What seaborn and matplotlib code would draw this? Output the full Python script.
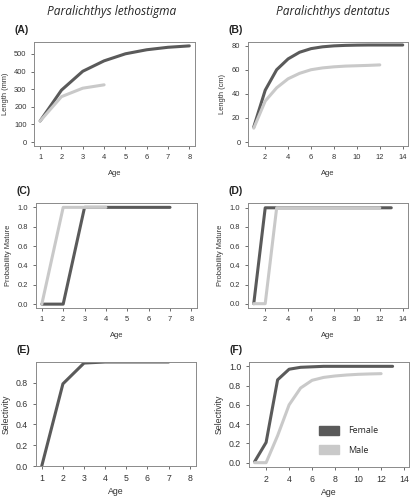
import seaborn as sns
import matplotlib.pyplot as plt
import matplotlib.patches as mpatches
import pandas as pd

# Data
# Growth (length at age)
leth_age_f = [1, 2, 3, 4, 5, 6, 7, 8]
leth_len_f = [120, 295, 402, 461, 501, 524, 538, 546]
leth_age_m = [1, 2, 3, 4]
leth_len_m = [120, 258, 306, 325]

dent_age_f = [1, 2, 3, 4, 5, 6, 7, 8, 9, 10, 11, 12, 13, 14]
dent_len_f = [12.5, 43, 60, 69, 74.5, 77.5, 79, 79.8, 80.2, 80.4, 80.5, 80.5, 80.5, 80.5]
dent_age_m = [1, 2, 3, 4, 5, 6, 7, 8, 9, 10, 11, 12]
dent_len_m = [11.5, 34, 45, 52.5, 57, 60, 61.5, 62.4, 63, 63.3, 63.6, 64]

# Maturity
leth_mat_age_f = [1, 2, 3, 4, 5, 6, 7]
leth_mat_f = [0, 0, 1, 1, 1, 1, 1]
leth_mat_age_m = [1, 2, 3, 4]
leth_mat_m = [0, 1, 1, 1]

dent_mat_age_f = [1, 2, 3, 4, 5, 6, 7, 8, 9, 10, 11, 12, 13]
dent_mat_f = [0, 1, 1, 1, 1, 1, 1, 1, 1, 1, 1, 1, 1]
dent_mat_age_m = [1, 2, 3, 4, 5, 6, 7, 8, 9, 10, 11, 12]
dent_mat_m = [0, 0, 1, 1, 1, 1, 1, 1, 1, 1, 1, 1]

# Selectivity
leth_sel_age = [1, 2, 3, 4, 5, 6, 7]
leth_sel = [0, 0.79, 0.99, 1.0, 1.0, 1.0, 1.0]

dent_sel_age_f = [1, 2, 3, 4, 5, 6, 7, 8, 9, 10, 11, 12, 13]
dent_sel_f = [0.01, 0.21, 0.86, 0.97, 0.99, 0.995, 1.0, 1.0, 1.0, 1.0, 1.0, 1.0, 1.0]
dent_sel_age_m = [1, 2, 3, 4, 5, 6, 7, 8, 9, 10, 11, 12]
dent_sel_m = [0, 0, 0.28, 0.60, 0.775, 0.855, 0.885, 0.90, 0.91, 0.917, 0.921, 0.924]

sex_order = ["Female", "Male"]
palette = {"Female": "#5a5a5a", "Male": "#c9c9c9"}

sns.set_style("white")
plt.rcParams['font.family'] = ['Liberation Sans', 'DejaVu Sans']


def long_df(age_f, val_f, age_m=None, val_m=None):
    parts = [pd.DataFrame({"age": age_f, "value": val_f, "sex": "Female"})]
    if age_m is not None:
        parts.append(pd.DataFrame({"age": age_m, "value": val_m, "sex": "Male"}))
    return pd.concat(parts, ignore_index=True)


def panel(rect, df, xlim, ylim, xticks, yticks, ylabel, tag, big=False):
    ax = fig.add_axes(rect)
    sns.lineplot(data=df, x="age", y="value", hue="sex", hue_order=sex_order,
                 palette=palette, linewidth=2.2, legend=False, ax=ax)
    ax.set_xlim(*xlim)
    ax.set_ylim(*ylim)
    ax.set_xticks(xticks)
    ax.set_yticks(yticks)
    fs = 6.3 if big else 5.4
    if isinstance(yticks[0], float):
        ax.set_yticklabels([f"{v:.1f}" for v in yticks])
    ax.tick_params(axis="both", labelsize=fs, colors="#555555", labelcolor="#333333",
                   length=2.5, width=0.6, direction="out", left=True, bottom=True, pad=3)
    for s in ax.spines.values():
        s.set_color("#8a8a8a")
        s.set_linewidth(0.7)
    ax.set_xlabel("Age", fontsize=fs, color="#333333", labelpad=3 if big else 7)
    ax.set_ylabel(ylabel, fontsize=fs, color="#333333", labelpad=4)
    ax.text(-0.12, 1.07, tag, transform=ax.transAxes, fontsize=7.5,
            fontweight="bold", color="#222222", ha="left", va="bottom")
    return ax


fig = plt.figure(figsize=(4.12, 5.0), dpi=100)

fig.text(0.272, 0.978, "Paralichthys lethostigma", fontsize=8.6, style="italic",
         ha="center", va="center", family=["Open Sans", "DejaVu Sans"])
fig.text(0.808, 0.978, "Paralichthys dentatus", fontsize=8.6, style="italic",
         ha="center", va="center", family=["Open Sans", "DejaVu Sans"])

# Growth
panel([0.083, 0.708, 0.391, 0.208],
      long_df(leth_age_f, leth_len_f, leth_age_m, leth_len_m),
      (0.72, 8.28), (-22, 568), range(1, 9), [0, 100, 200, 300, 400, 500],
      "Length (mm)", "(A)")
panel([0.602, 0.708, 0.388, 0.208],
      long_df(dent_age_f, dent_len_f, dent_age_m, dent_len_m),
      (0.5, 14.45), (-3.3, 83), range(2, 15, 2), [0, 20, 40, 60, 80],
      "Length (cm)", "(B)")

# Maturity
yt = [0.0, 0.2, 0.4, 0.6, 0.8, 1.0]
panel([0.087, 0.384, 0.392, 0.210],
      long_df(leth_mat_age_f, leth_mat_f, leth_mat_age_m, leth_mat_m),
      (0.72, 8.28), (-0.04, 1.045), range(1, 9), yt,
      "Probability Mature", "(C)")
panel([0.602, 0.384, 0.388, 0.210],
      long_df(dent_mat_age_f, dent_mat_f, dent_mat_age_m, dent_mat_m),
      (0.5, 14.45), (-0.045, 1.05), range(2, 15, 2), yt,
      "Probability Mature", "(D)")

# Selectivity
panel([0.087, 0.068, 0.388, 0.208],
      long_df(leth_sel_age, leth_sel),
      (0.72, 8.28), (0, 1.0), range(1, 9), [0.0, 0.2, 0.4, 0.6, 0.8],
      "Selectivity", "(E)", big=True)
axf = panel([0.604, 0.066, 0.388, 0.210],
            long_df(dent_sel_age_f, dent_sel_f, dent_sel_age_m, dent_sel_m),
            (0.5, 14.4), (-0.045, 1.045), range(2, 15, 2), yt,
            "Selectivity", "(F)", big=True)

handles = [mpatches.Patch(color=palette[s], label=s) for s in sex_order]
axf.legend(handles=handles, loc="lower left", bbox_to_anchor=(0.39, 0.04),
           frameon=False, handlelength=2.2, handleheight=1.1,
           labelspacing=1.1, handletextpad=1.0,
           prop={"family": ["Open Sans", "DejaVu Sans"], "size": 6.5})

fig.savefig("out.png", dpi=100)
